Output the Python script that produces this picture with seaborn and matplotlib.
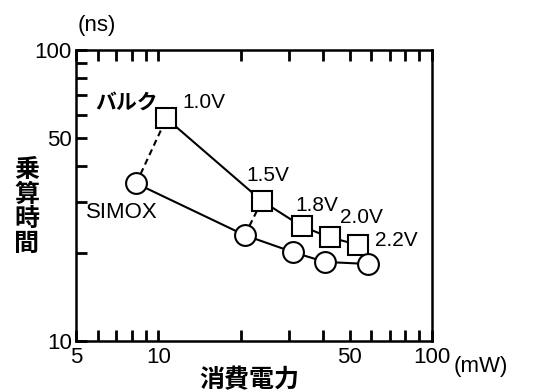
import matplotlib
matplotlib.use('Agg')
import matplotlib.pyplot as plt
import seaborn as sns
import pandas as pd
from matplotlib.ticker import FixedLocator, NullFormatter, FixedFormatter

# Data
bulk_power = [10.7, 23.9, 33.4, 42.4, 53.8]
bulk_time = [58.2, 30.3, 24.8, 22.7, 21.4]
simox_power = [8.3, 20.7, 31.1, 40.6, 58.5]
simox_time = [34.8, 23.1, 20.2, 18.7, 18.4]
voltages = ['1.0V', '1.5V', '1.8V', '2.0V', '2.2V']
x_major = [5, 10, 50, 100]
x_major_labels = ['5', '10', '50', '100']
x_minor = [6, 7, 8, 9, 20, 30, 40, 60, 70, 80, 90]
y_major = [10, 50, 100]
y_major_labels = ['10', '50', '100']
y_minor = [20, 30, 40, 60, 70, 80, 90]

sns.set_theme(style='ticks')
plt.rcParams['font.family'] = ['Liberation Sans', 'Noto Sans CJK JP', 'DejaVu Sans']
plt.rcParams['text.color'] = 'black'

fig = plt.figure(figsize=(5.49, 3.92), dpi=100)
ax = fig.add_axes([0.1384, 0.130, 0.6484, 0.7424])

bulk = pd.DataFrame({'power': bulk_power, 'time': bulk_time})
simox = pd.DataFrame({'power': simox_power, 'time': simox_time})

# dashed connectors between same-voltage points
for i in range(2):
    ax.plot([simox_power[i], bulk_power[i]], [simox_time[i], bulk_time[i]],
            color='black', lw=1.5, ls=(0, (3, 2)), zorder=1)

sns.lineplot(data=bulk, x='power', y='time', ax=ax, color='black', lw=1.5,
             marker='s', markersize=15, markerfacecolor='white',
             markeredgecolor='black', markeredgewidth=1.5, zorder=3)
sns.lineplot(data=simox, x='power', y='time', ax=ax, color='black', lw=1.5,
             marker='o', markersize=15, markerfacecolor='white',
             markeredgecolor='black', markeredgewidth=1.5, zorder=3)

ax.set_xscale('log')
ax.set_yscale('log')
ax.set_xlim(5, 100)
ax.set_ylim(10, 100)

ax.xaxis.set_major_locator(FixedLocator(x_major))
ax.xaxis.set_major_formatter(FixedFormatter(x_major_labels))
ax.xaxis.set_minor_locator(FixedLocator(x_minor))
ax.xaxis.set_minor_formatter(NullFormatter())
ax.yaxis.set_major_locator(FixedLocator(y_major))
ax.yaxis.set_major_formatter(FixedFormatter(y_major_labels))
ax.yaxis.set_minor_locator(FixedLocator(y_minor))
ax.yaxis.set_minor_formatter(NullFormatter())

ax.tick_params(axis='both', which='both', direction='in', length=8, width=2,
               color='black', labelsize=16, labelcolor='black')
ax.tick_params(axis='x', which='both', top=True, bottom=True, pad=4)
ax.tick_params(axis='y', which='both', left=True, right=False, pad=3)

for s in ax.spines.values():
    s.set_linewidth(1.8)
    s.set_color('black')

ax.set_xlabel('')
ax.set_ylabel('')

# point labels
ax.text(0.143, 0.818, 'バルク', transform=ax.transAxes, ha='center', va='center',
        fontsize=15, fontweight='bold')
ax.text(0.129, 0.44, 'SIMOX', transform=ax.transAxes, ha='center', va='center',
        fontsize=16)
v_pos = [(0.36, 0.818), (0.539, 0.570), (0.677, 0.467), (0.803, 0.423), (0.899, 0.347)]
for lab, (fx, fy) in zip(voltages, v_pos):
    ax.text(fx, fy, lab, transform=ax.transAxes, ha='center', va='center', fontsize=15)

# axis titles and units
fig.text(0.049, 0.472, '乗\n算\n時\n間', ha='center', va='center', fontsize=18,
         fontweight='bold', linespacing=1.05)
fig.text(0.455, 0.031, '消費電力', ha='center', va='center', fontsize=18,
         fontweight='bold')
fig.text(0.177, 0.936, '(ns)', ha='center', va='center', fontsize=16)
fig.text(0.876, 0.064, '(mW)', ha='center', va='center', fontsize=16)

fig.savefig('out.png', dpi=100)
